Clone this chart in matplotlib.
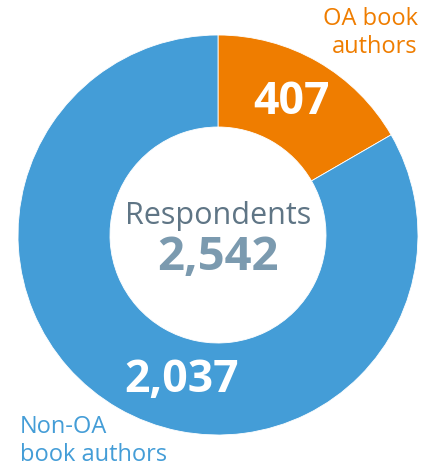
import matplotlib.pyplot as plt

# survey respondents split by authorship
groups = ["OA book\nauthors", "Non-OA\nbook authors"]
counts = [407, 2037]
count_labels = ["407", "2,037"]
total_label = "2,542"
colors = ["#EF7D00", "#449DD7"]

plt.rcParams['font.family'] = ['Open Sans', 'DejaVu Sans']

fig = plt.figure(figsize=(4.35, 4.66), dpi=100)
ax = fig.add_axes([0, 0, 1, 1])

# donut, pixel coords (y measured from bottom)
cx, cy, r = 218, 231, 200
ax.pie(counts, colors=colors, startangle=90, counterclock=False,
       center=(cx, cy), radius=r, frame=True,
       wedgeprops=dict(width=r * 0.46, edgecolor='white', linewidth=0.6))
ax.set_xlim(0, 435)
ax.set_ylim(0, 466)
ax.set_aspect('equal')
ax.axis('off')

# values on the ring
ax.text(291, 466 - 103, count_labels[0], color='white', fontsize=32,
        fontweight='bold', ha='center', va='center')
ax.text(182, 466 - 381, count_labels[1], color='white', fontsize=32,
        fontweight='bold', ha='center', va='center')

# centre text
ax.text(cx, 466 - 216, "Respondents", color='#5F7585', fontsize=22,
        ha='center', va='center')
ax.text(cx, 466 - 258, total_label, color='#7B9AAF', fontsize=34,
        fontweight='bold', ha='center', va='center')

# group names
ax.text(418, 466 - 33, groups[0], color=colors[0], fontsize=17,
        ha='right', va='center', linespacing=1.22)
ax.text(20, 466 - 441, groups[1], color=colors[1], fontsize=17,
        ha='left', va='center', linespacing=1.22)

fig.savefig("out.png", dpi=100)
